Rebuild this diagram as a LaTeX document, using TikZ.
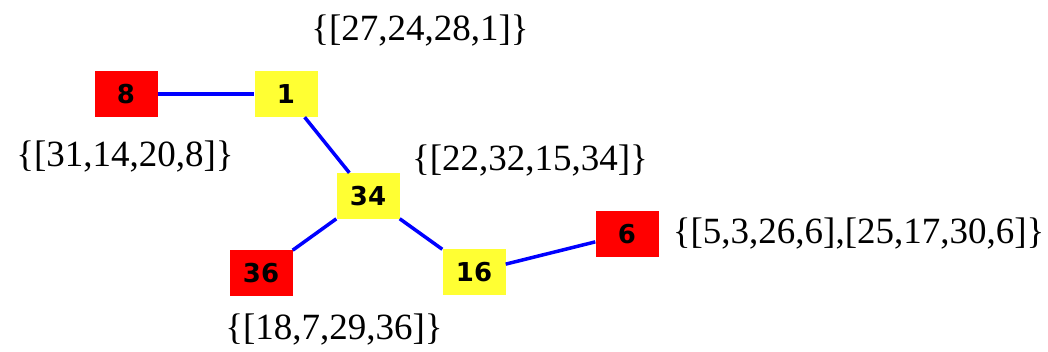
\documentclass[tikz,border=0pt]{standalone}
\usepackage{fontspec}
\setmainfont{Liberation Serif}
\newfontfamily\boxfont{DejaVu Sans}
\usetikzlibrary{positioning}
\definecolor{setred}{HTML}{FF0000}
\definecolor{setyellow}{HTML}{FFFF33}
\definecolor{linkblue}{HTML}{0000FF}

\begin{document}
\begin{tikzpicture}[
    x=1pt, y=-1pt,
    vertex/.style={rectangle, minimum width=63pt, minimum height=46pt, inner sep=0pt, font=\boxfont\bfseries\fontsize{26}{26}\selectfont},
    leafbox/.style={vertex, fill=setred},
    hubbox/.style={vertex, fill=setyellow},
    link/.style={draw=linkblue, line width=3.5pt},
    setlabel/.style={inner sep=0pt, font=\fontsize{37}{37}\selectfont}
]
\useasboundingbox (0,0) rectangle (1048,352);

% Nodes
\node[leafbox] (n8) at (126,94) {8};
\node[hubbox] (n1) at (286,94) {1};
\node[hubbox] (n34) at (368,196) {34};
\node[leafbox] (n36) at (261,273) {36};
\node[hubbox] (n16) at (474,272) {16};
\node[leafbox] (n6) at (627,234) {6};

% Sets
\node[setlabel] (s1) at (420,31) {\{[27,24,28,1]\}};
\node[setlabel] (s8) at (125,157) {\{[31,14,20,8]\}};
\node[setlabel] (s34) at (530,161) {\{[22,32,15,34]\}};
\node[setlabel, right=14pt of n6] (s6) {\{[5,3,26,6],[25,17,30,6]\}};
\node[setlabel] (s36) at (334,330) {\{[18,7,29,36]\}};

% Edges
\draw[link] (n8) -- (n1);
\draw[link] (n1) -- (n34);
\draw[link] (n34) -- (n36);
\draw[link] (n34) -- (n16);
\draw[link] (n16) -- (n6);

\end{tikzpicture}
\end{document}
